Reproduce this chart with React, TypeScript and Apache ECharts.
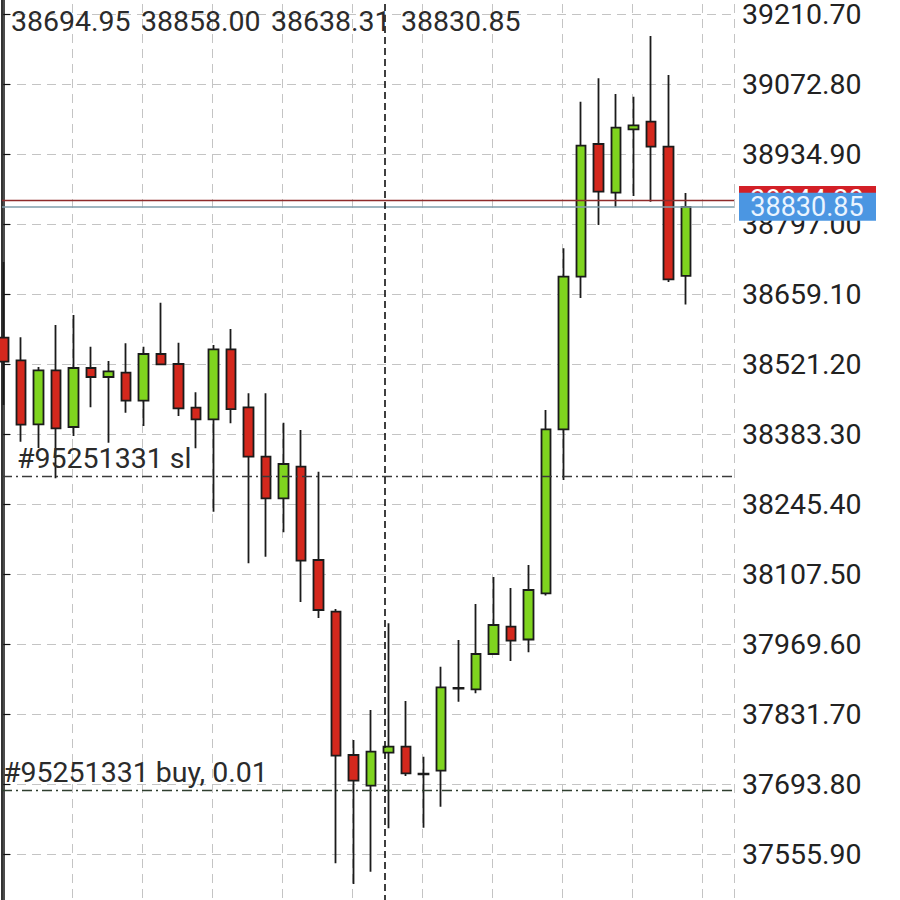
import React, { useEffect, useRef } from "react";
import * as echarts from "echarts";

// Price-axis tick labels (right scale)
const priceTicks = [
  37555.9, 37693.8, 37831.7, 37969.6, 38107.5, 38245.4, 38383.3, 38521.2,
  38659.1, 38797.0, 38934.9, 39072.8, 39210.7,
];

// Candles, oldest to newest
const opens = [
  38573.0, 38528.5, 38402.4, 38508.8, 38397.1, 38513.3, 38495.6, 38504.1, 38448.9, 38540.9,
  38521.2, 38435.1, 38412.3, 38550.2, 38435.9, 38338.6, 38256.6, 38318.9, 38135.1, 38033.2,
  37750.9, 37690.5, 37755.5, 37767.3, 37713.0, 37720.0, 37883.0, 37880.4, 37949.9, 38003.7,
  37978.5, 38069.5, 38392.6, 38693.2, 38954.6, 38858.7, 38983.6, 38998.5, 38949.3, 38694.95,
];
const highs = [
  38722.1, 38573.8, 38515.3, 38598.0, 38617.7, 38555.3, 38527.1, 38562.0, 38555.3, 38642.0,
  38563.2, 38465.4, 38558.6, 38590.1, 38463.5, 38463.5, 38405.6, 38391.2, 38309.0, 38038.5,
  37780.5, 37839.6, 38010.4, 37857.3, 37747.6, 37924.9, 37977.5, 38048.4, 38101.6, 38079.9,
  38125.2, 38430.6, 38749.1, 39037.9, 39084.0, 39053.1, 39047.8, 39167.4, 39090.5, 38858.0,
];
const lows = [
  38440.4, 38368.1, 38355.7, 38296.0, 38379.4, 38435.9, 38366.2, 38425.3, 38399.1, 38519.2,
  38418.8, 38355.1, 38230.2, 38404.4, 38128.6, 38141.6, 38189.6, 38052.3, 38020.8, 37537.6,
  37496.8, 37521.0, 37606.5, 37709.6, 37607.7, 37649.1, 37855.9, 37872.5, 37948.0, 37936.1,
  37953.3, 38065.2, 38292.7, 38651.2, 38795.0, 38829.9, 38852.2, 38840.9, 38682.7, 38638.31,
];
const closes = [
  38525.7, 38401.6, 38508.8, 38394.5, 38513.3, 38495.6, 38506.8, 38448.9, 38540.9, 38520.6,
  38433.9, 38412.3, 38550.2, 38432.5, 38338.6, 38256.6, 38324.2, 38133.7, 38036.6, 37749.6,
  37700.3, 37757.5, 37767.3, 37714.9, 37714.0, 37884.3, 37881.5, 37949.9, 38007.0, 37976.1,
  38076.0, 38392.6, 38693.2, 38951.3, 38860.6, 38986.7, 38991.4, 38949.3, 38688.1, 38830.85,
];

// Header OHLC of the last bar
const headerValues = ["38694.95", "38858.00", "38638.31", "38830.85"];

// Price lines and trade levels
const bidPrice = 38830.85;
const askPrice = 38844.2;
const slPrice = 38299.2;
const buyPrice = 37681.0;
const slLabel = "#95251331 sl";
const buyLabel = "#95251331 buy, 0.01";
const separatorAt = 21.77; // period separator, in bar index units

const FONT = "Roboto, 'Noto Sans', sans-serif";

export default function App() {
  const ref = useRef<HTMLDivElement>(null);

  useEffect(() => {
    const chart = echarts.init(ref.current!, null, { renderer: "svg" });
    const step = Math.round((priceTicks[1] - priceTicks[0]) * 100) / 100;
    const yMin = Math.round((priceTicks[0] - step) * 100) / 100;
    const yMax = Math.round((priceTicks[priceTicks.length - 1] + step) * 100) / 100;

    const data = opens.map((o, i) => [i, o, closes[i], lows[i], highs[i]]);

    chart.setOption({
      animation: false,
      backgroundColor: "#ffffff",
      grid: {
        left: 2,
        right: 166,
        top: -56,
        bottom: -24,
        containLabel: false,
        outerBoundsMode: "none",
      },
      xAxis: [
        {
          type: "value",
          min: -0.075,
          max: 41.755,
          show: false,
        },
        {
          type: "value",
          min: 0,
          max: 732,
          interval: 70,
          position: "bottom",
          axisLine: { show: false },
          axisTick: { show: false },
          axisLabel: { show: false },
          splitLine: {
            show: true,
            lineStyle: { color: "#c4c4c4", width: 1, type: [9, 6] },
          },
        },
      ],
      yAxis: [
        {
          type: "value",
          position: "right",
          min: yMin,
          max: yMax,
          interval: step,
          axisLine: { show: true, lineStyle: { color: "#111", width: 1.5 } },
          axisTick: { show: true, length: 7, lineStyle: { color: "#111", width: 1.2 } },
          axisLabel: {
            show: true,
            margin: 8,
            color: "#222",
            fontSize: 28.5,
            fontFamily: FONT,
            showMinLabel: false,
            showMaxLabel: false,
            formatter: (v: number) => v.toFixed(2),
          },
          splitLine: {
            show: true,
            lineStyle: { color: "#c4c4c4", width: 1, type: [9, 6] },
          },
        },
        {
          type: "value",
          position: "left",
          min: yMin,
          max: yMax,
          interval: step,
          axisLine: { show: true, lineStyle: { color: "#333", width: 2 } },
          axisTick: { show: false },
          axisLabel: { show: false },
          splitLine: { show: false },
        },
      ],
      series: [
        {
          type: "candlestick",
          xAxisIndex: 0,
          yAxisIndex: 0,
          data,
          barWidth: 10,
          clip: true,
          itemStyle: {
            color: "#7fd41f",
            color0: "#d4281d",
            borderColor: "#1b1b1b",
            borderColor0: "#1b1b1b",
            borderColorDoji: "#1b1b1b",
            borderWidth: 1.8,
          },
          emphasis: { disabled: true },
          markLine: {
            silent: true,
            symbol: "none",
            animation: false,
            label: { show: false },
            emphasis: { disabled: true },
            data: [
              { yAxis: askPrice, lineStyle: { color: "#8e2b2b", width: 1.3, type: "solid" } },
              { yAxis: bidPrice, lineStyle: { color: "#7f9eab", width: 1.6, type: "solid" } },
              { yAxis: slPrice, lineStyle: { color: "#3a3a3a", width: 1.3, type: [10, 4, 2, 4] } },
              { yAxis: buyPrice, lineStyle: { color: "#2f3f2f", width: 1.3, type: [10, 4, 2, 4] } },
              { xAxis: separatorAt, lineStyle: { color: "#111", width: 1.6, type: [7, 4] } },
            ],
          },
        },
      ],
    });

    const py = (v: number) => chart.convertToPixel({ yAxisIndex: 0 }, v) as number;
    const yAsk = py(askPrice);
    const yBid = py(bidPrice);
    const ySl = py(slPrice);
    const yBuy = py(buyPrice);

    const headerTexts = headerValues.map((t, i) => ({
      type: "text",
      z: 50,
      style: {
        text: t,
        x: 11 + i * 130,
        y: 21.5,
        align: "left",
        verticalAlign: "middle",
        fill: "#2b2b2b",
        font: `28.5px ${FONT}`,
      },
    }));

    chart.setOption({
      graphic: [
        ...headerTexts,
        {
          type: "text",
          z: 50,
          style: {
            text: slLabel,
            x: 17,
            y: ySl - 18,
            align: "left",
            verticalAlign: "middle",
            fill: "#2b2b2b",
            font: `28.5px ${FONT}`,
          },
        },
        {
          type: "text",
          z: 50,
          style: {
            text: buyLabel,
            x: 3,
            y: yBuy - 18,
            align: "left",
            verticalAlign: "middle",
            fill: "#2b2b2b",
            font: `28.5px ${FONT}`,
          },
        },
        {
          type: "rect",
          z: 100,
          shape: { x: 739, y: yAsk - 14, width: 137, height: 28 },
          style: { fill: "#d32027" },
        },
        {
          type: "text",
          z: 101,
          style: {
            text: askPrice.toFixed(2),
            x: 807,
            y: yAsk,
            align: "center",
            verticalAlign: "middle",
            fill: "#ffffff",
            font: `27px ${FONT}`,
          },
        },
        {
          type: "rect",
          z: 102,
          shape: { x: 739, y: yBid - 14, width: 137, height: 28 },
          style: { fill: "#4b96e2" },
        },
        {
          type: "text",
          z: 103,
          style: {
            text: bidPrice.toFixed(2),
            x: 807,
            y: yBid,
            align: "center",
            verticalAlign: "middle",
            fill: "#eaf4ff",
            font: `27px ${FONT}`,
          },
        },
      ],
    });

    return () => chart.dispose();
  }, []);

  return (
    <div
      ref={ref}
      style={{ position: "fixed", left: 0, top: 0, width: 900, height: 900, background: "#fff" }}
    />
  );
}
